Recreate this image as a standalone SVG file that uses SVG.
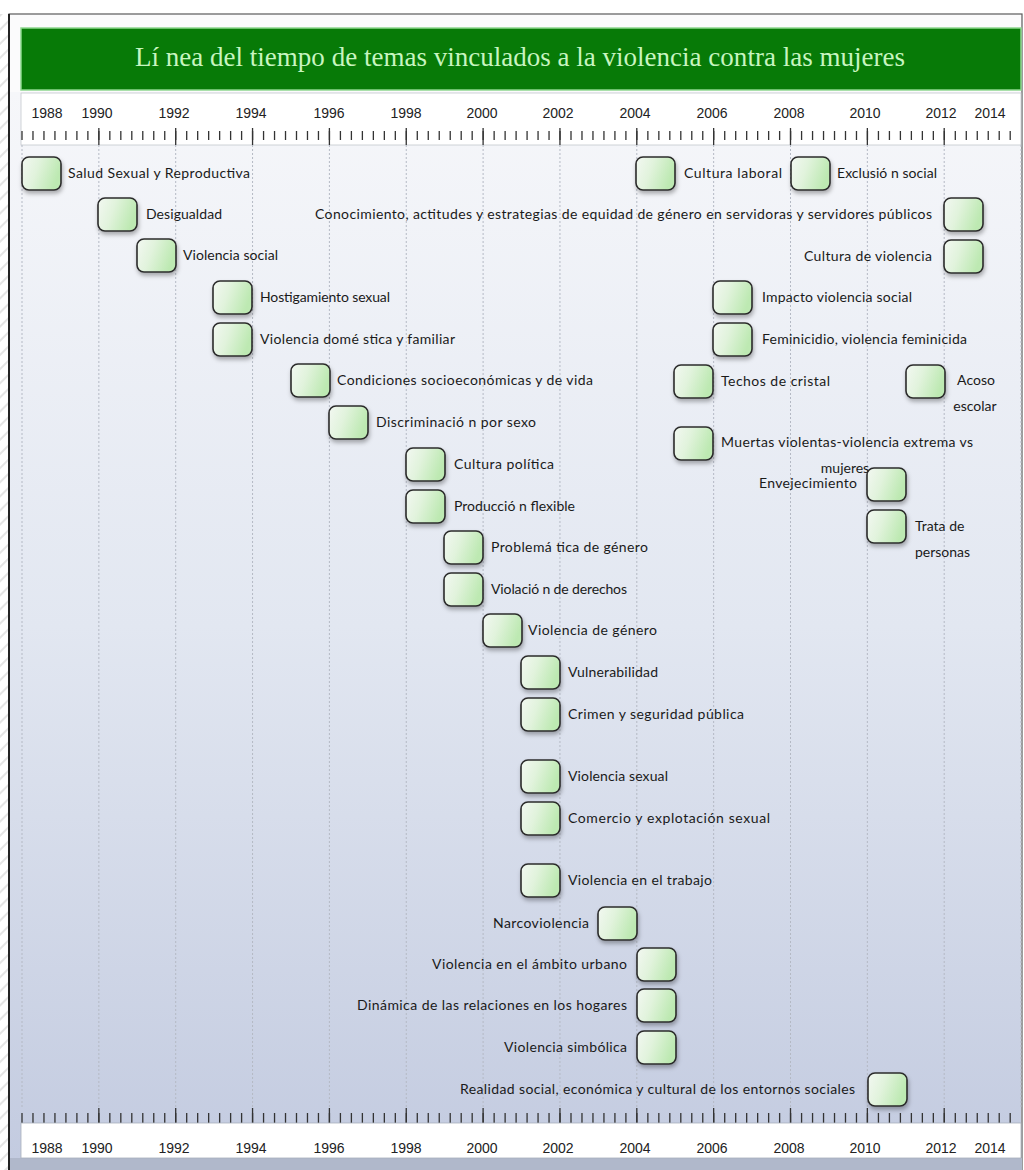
<svg xmlns="http://www.w3.org/2000/svg" width="1024" height="1170" viewBox="0 0 1024 1170">
<defs>
<style>
.lbl{font-family:Lato,"Noto Sans","Liberation Sans",sans-serif;font-size:14px;fill:#1a1a1a}
.box{fill:url(#ng);stroke:#2b2b2b;stroke-width:1.6;filter:url(#sh)}
.yr{font-family:"Liberation Sans",Arial,sans-serif;font-size:14px;fill:#222;text-anchor:middle}
.tick{stroke:#333;stroke-width:1.3;fill:none}
.grid{stroke:#b4b9c4;stroke-width:1;stroke-dasharray:2 2;fill:none}
</style>
<linearGradient id="ng" x1="0" y1="0" x2="1" y2="0.3">
<stop offset="0" stop-color="#f3f8f2"/>
<stop offset="0.45" stop-color="#e1f3dc"/>
<stop offset="1" stop-color="#bde9b2"/>
</linearGradient>
<linearGradient id="bg" x1="0" y1="0" x2="0" y2="1">
<stop offset="0" stop-color="#f6f7fa"/>
<stop offset="0.5" stop-color="#e2e7f1"/>
<stop offset="1" stop-color="#c3cbe0"/>
</linearGradient>
<filter id="sh" x="-30%" y="-30%" width="170%" height="180%">
<feDropShadow dx="1" dy="3" stdDeviation="2" flood-color="#000" flood-opacity="0.3"/>
</filter>
<pattern id="hatch" width="10" height="10" patternUnits="userSpaceOnUse" patternTransform="rotate(45)">
<rect width="10" height="10" fill="#ffffff"/>
<line x1="0" y1="0" x2="0" y2="10" stroke="#e4e4e4" stroke-width="4"/>
</pattern>
</defs>

<rect x="0" y="0" width="1024" height="1170" fill="#ffffff"/>
<rect x="0" y="14" width="8" height="1156" fill="url(#hatch)"/>

<g id="frame">
<rect x="9" y="14" width="1013" height="1160" fill="#fbfbfc" stroke="#5a5a5a" stroke-width="1.2"/>
<line x1="9" y1="14" x2="9" y2="1170" stroke="#222" stroke-width="2"/>
<rect x="10" y="92" width="1011" height="1068" fill="url(#bg)"/>
<rect x="10" y="1158" width="1012" height="12" fill="#b0b8cb"/>
</g>

<g id="title">
<rect x="21" y="28" width="1000" height="62" fill="#077a07" stroke="#8fd88f" stroke-width="1.5"/>
<text x="520" y="66" text-anchor="middle" textLength="770" font-family="'Liberation Serif','Times New Roman',serif" font-size="27" fill="#c8f5c0">Lí nea del tiempo de temas vinculados a la violencia contra las mujeres</text>
</g>

<g id="axis-top">
<rect x="21" y="93" width="1000" height="52" fill="#ffffff" stroke="#c4c7cd" stroke-width="0.8"/>
<text class="yr" x="47" y="118">1988</text>
<text class="yr" x="97" y="118">1990</text>
<text class="yr" x="174" y="118">1992</text>
<text class="yr" x="251" y="118">1994</text>
<text class="yr" x="329" y="118">1996</text>
<text class="yr" x="406" y="118">1998</text>
<text class="yr" x="482" y="118">2000</text>
<text class="yr" x="558" y="118">2002</text>
<text class="yr" x="635" y="118">2004</text>
<text class="yr" x="712" y="118">2006</text>
<text class="yr" x="789" y="118">2008</text>
<text class="yr" x="865" y="118">2010</text>
<text class="yr" x="941" y="118">2012</text>
<text class="yr" x="990" y="118">2014</text>
<line x1="21.35" y1="135.5" x2="1012" y2="135.5" stroke="#333" stroke-width="9" stroke-dasharray="1.3 9.68"/>
<path class="tick" d="M98.85 128v17M175.7 128v17M252.55 128v17M329.4 128v17M406.25 128v17M483.1 128v17M559.95 128v17M636.8 128v17M713.65 128v17M790.5 128v17M867.35 128v17M944.2 128v17"/>
</g>

<g id="grid">
<path class="grid" d="M22 145V1108M98.85 145V1108M175.7 145V1108M252.55 145V1108M329.4 145V1108M406.25 145V1108M483.1 145V1108M559.95 145V1108M636.8 145V1108M713.65 145V1108M790.5 145V1108M867.35 145V1108M944.2 145V1108M1021 145V1108"/>
</g>

<g id="axis-bottom">
<line x1="21.35" y1="1118" x2="1012" y2="1118" stroke="#333" stroke-width="10" stroke-dasharray="1.3 9.68"/>
<path class="tick" d="M98.85 1108v15M175.7 1108v15M252.55 1108v15M329.4 1108v15M406.25 1108v15M483.1 1108v15M559.95 1108v15M636.8 1108v15M713.65 1108v15M790.5 1108v15M867.35 1108v15M944.2 1108v15"/>
<rect x="21" y="1123" width="1000" height="35" fill="#ffffff" stroke="#a9afbc" stroke-width="0.8"/>
<text class="yr" x="47" y="1153">1988</text>
<text class="yr" x="97" y="1153">1990</text>
<text class="yr" x="174" y="1153">1992</text>
<text class="yr" x="251" y="1153">1994</text>
<text class="yr" x="329" y="1153">1996</text>
<text class="yr" x="406" y="1153">1998</text>
<text class="yr" x="482" y="1153">2000</text>
<text class="yr" x="558" y="1153">2002</text>
<text class="yr" x="635" y="1153">2004</text>
<text class="yr" x="712" y="1153">2006</text>
<text class="yr" x="789" y="1153">2008</text>
<text class="yr" x="865" y="1153">2010</text>
<text class="yr" x="941" y="1153">2012</text>
<text class="yr" x="990" y="1153">2014</text>
</g>

<g id="connectors"></g>

<g id="n-salud"><rect class="box" x="22" y="157" width="39" height="33" rx="7"/><text class="lbl" x="68" y="178" textLength="182">Salud Sexual y Reproductiva</text></g>
<g id="n-desigualdad"><rect class="box" x="98" y="198" width="39" height="33" rx="7"/><text class="lbl" x="146" y="219" textLength="76">Desigualdad</text></g>
<g id="n-violencia-social"><rect class="box" x="137" y="239" width="39" height="33" rx="7"/><text class="lbl" x="183" y="260" textLength="95">Violencia social</text></g>
<g id="n-hostigamiento"><rect class="box" x="213" y="281" width="39" height="33" rx="7"/><text class="lbl" x="260" y="302" textLength="130">Hostigamiento sexual</text></g>
<g id="n-domestica"><rect class="box" x="213" y="323" width="39" height="33" rx="7"/><text class="lbl" x="260" y="344" textLength="195">Violencia domé stica y familiar</text></g>
<g id="n-condiciones"><rect class="box" x="291" y="364" width="39" height="33" rx="7"/><text class="lbl" x="337" y="385" textLength="256">Condiciones socioeconómicas y de vida</text></g>
<g id="n-discriminacion"><rect class="box" x="329" y="406" width="39" height="33" rx="7"/><text class="lbl" x="376" y="427" textLength="160">Discriminació n por sexo</text></g>
<g id="n-cultura-politica"><rect class="box" x="406" y="448" width="39" height="33" rx="7"/><text class="lbl" x="454" y="469" textLength="100">Cultura política</text></g>
<g id="n-produccion"><rect class="box" x="406" y="490" width="39" height="33" rx="7"/><text class="lbl" x="454" y="511" textLength="121">Producció n flexible</text></g>
<g id="n-problematica"><rect class="box" x="444" y="531" width="39" height="33" rx="7"/><text class="lbl" x="491" y="552" textLength="157">Problemá tica de género</text></g>
<g id="n-violacion"><rect class="box" x="444" y="573" width="39" height="33" rx="7"/><text class="lbl" x="491" y="594" textLength="136">Violació n de derechos</text></g>
<g id="n-violencia-genero"><rect class="box" x="483" y="614" width="39" height="33" rx="7"/><text class="lbl" x="528" y="635" textLength="129">Violencia de género</text></g>
<g id="n-vulnerabilidad"><rect class="box" x="521" y="656" width="39" height="33" rx="7"/><text class="lbl" x="568" y="677" textLength="90">Vulnerabilidad</text></g>
<g id="n-crimen"><rect class="box" x="521" y="698" width="39" height="33" rx="7"/><text class="lbl" x="568" y="719" textLength="176">Crimen y seguridad pública</text></g>
<g id="n-violencia-sexual"><rect class="box" x="521" y="760" width="39" height="33" rx="7"/><text class="lbl" x="568" y="781" textLength="100">Violencia sexual</text></g>
<g id="n-comercio"><rect class="box" x="521" y="802" width="39" height="33" rx="7"/><text class="lbl" x="568" y="823" textLength="202">Comercio y explotación sexual</text></g>
<g id="n-trabajo"><rect class="box" x="521" y="864" width="39" height="33" rx="7"/><text class="lbl" x="568" y="885" textLength="144">Violencia en el trabajo</text></g>
<g id="n-narcoviolencia"><rect class="box" x="598" y="907" width="39" height="33" rx="7"/><text class="lbl" x="589" y="928" text-anchor="end" textLength="96">Narcoviolencia</text></g>
<g id="n-urbano"><rect class="box" x="637" y="948" width="39" height="33" rx="7"/><text class="lbl" x="627" y="969" text-anchor="end" textLength="195">Violencia en el ámbito urbano</text></g>
<g id="n-hogares"><rect class="box" x="637" y="989" width="39" height="33" rx="7"/><text class="lbl" x="627" y="1010" text-anchor="end" textLength="270">Dinámica de las relaciones en los hogares</text></g>
<g id="n-simbolica"><rect class="box" x="637" y="1031" width="39" height="33" rx="7"/><text class="lbl" x="627" y="1052" text-anchor="end" textLength="123">Violencia simbólica</text></g>
<g id="n-realidad"><rect class="box" x="868" y="1073" width="39" height="33" rx="7"/><text class="lbl" x="855" y="1094" text-anchor="end" textLength="395">Realidad social, económica y cultural de los entornos sociales</text></g>
<g id="n-cultura-laboral"><rect class="box" x="636" y="157" width="39" height="33" rx="7"/><text class="lbl" x="684" y="178" textLength="98">Cultura laboral</text></g>
<g id="n-exclusion"><rect class="box" x="791" y="157" width="39" height="33" rx="7"/><text class="lbl" x="837" y="178" textLength="100">Exclusió n social</text></g>
<g id="n-conocimiento"><rect class="box" x="944" y="198" width="39" height="33" rx="7"/><text class="lbl" x="932" y="219" text-anchor="end" textLength="617">Conocimiento, actitudes y estrategias de equidad de género en servidoras y servidores públicos</text></g>
<g id="n-cultura-violencia"><rect class="box" x="944" y="240" width="39" height="33" rx="7"/><text class="lbl" x="932" y="261" text-anchor="end" textLength="128">Cultura de violencia</text></g>
<g id="n-impacto"><rect class="box" x="713" y="281" width="39" height="33" rx="7"/><text class="lbl" x="762" y="302" textLength="150">Impacto violencia social</text></g>
<g id="n-feminicidio"><rect class="box" x="713" y="323" width="39" height="33" rx="7"/><text class="lbl" x="762" y="344" textLength="205">Feminicidio, violencia feminicida</text></g>
<g id="n-techos"><rect class="box" x="674" y="365" width="39" height="33" rx="7"/><text class="lbl" x="721" y="386" textLength="109">Techos de cristal</text></g>
<g id="n-acoso"><rect class="box" x="906" y="365" width="39" height="33" rx="7"/><text class="lbl" x="976" y="385" text-anchor="middle">Acoso</text><text class="lbl" x="975" y="411" text-anchor="middle">escolar</text></g>
<g id="n-muertas"><rect class="box" x="674" y="427" width="39" height="33" rx="7"/><text class="lbl" x="721" y="447" textLength="252">Muertas violentas-violencia extrema vs</text><text class="lbl" x="845" y="473" text-anchor="middle">mujeres</text></g>
<g id="n-envejecimiento"><rect class="box" x="867" y="468" width="39" height="33" rx="7"/><text class="lbl" x="857" y="488" text-anchor="end" textLength="98">Envejecimiento</text></g>
<g id="n-trata"><rect class="box" x="867" y="510" width="39" height="33" rx="7"/><text class="lbl" x="915" y="531">Trata de</text><text class="lbl" x="915" y="557">personas</text></g>
</svg>
